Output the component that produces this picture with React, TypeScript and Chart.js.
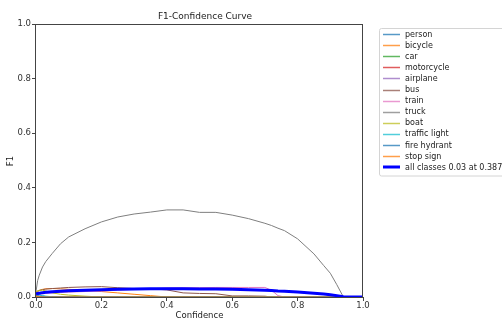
import React, { useEffect, useRef } from "react";
import { Chart, registerables } from "chart.js";

Chart.register(...registerables);

const confidence = [0, 0.005, 0.01, 0.02, 0.03, 0.05, 0.075, 0.1, 0.15, 0.2, 0.25, 0.3, 0.35, 0.4, 0.45, 0.5, 0.55, 0.6, 0.65, 0.7, 0.72, 0.74, 0.76, 0.8, 0.85, 0.88, 0.9, 0.92, 0.94, 0.96, 1.0];

const person = [0.006, 0.005, 0.004, 0.003, 0.002, 0.001, 0, 0, 0, 0, 0, 0, 0, 0, 0, 0, 0, 0, 0, 0, 0, 0, 0, 0, 0, 0, 0, 0, 0, 0, 0];
const bicycle = [0.015, 0.02, 0.024, 0.028, 0.03, 0.031, 0.03, 0.028, 0.025, 0.02, 0.015, 0.01, 0.005, 0, 0, 0, 0, 0, 0, 0, 0, 0, 0, 0, 0, 0, 0, 0, 0, 0, 0];
const car = [0.004, 0.003, 0.002, 0.001, 0, 0, 0, 0, 0, 0, 0, 0, 0, 0, 0, 0, 0, 0, 0, 0, 0, 0, 0, 0, 0, 0, 0, 0, 0, 0, 0];
const motorcycle = [0.003, 0.002, 0.001, 0, 0, 0, 0, 0, 0, 0, 0, 0, 0, 0, 0, 0, 0, 0, 0, 0, 0, 0, 0, 0, 0, 0, 0, 0, 0, 0, 0];
const airplane = [0.002, 0.001, 0, 0, 0, 0, 0, 0, 0, 0, 0, 0, 0, 0, 0, 0, 0, 0, 0, 0, 0, 0, 0, 0, 0, 0, 0, 0, 0, 0, 0];
const bus = [0.018, 0.022, 0.024, 0.027, 0.029, 0.031, 0.033, 0.035, 0.037, 0.038, 0.034, 0.031, 0.03, 0.026, 0.015, 0.013, 0.012, 0.004, 0.004, 0.003, 0, 0, 0, 0, 0, 0, 0, 0, 0, 0, 0];
const train = [0.008, 0.01, 0.011, 0.012, 0.013, 0.015, 0.017, 0.018, 0.02, 0.022, 0.025, 0.028, 0.03, 0.033, 0.034, 0.034, 0.035, 0.035, 0.035, 0.035, 0.025, 0.005, 0, 0, 0, 0, 0, 0, 0, 0, 0];
const truck = [0.02, 0.06, 0.08, 0.11, 0.13, 0.16, 0.195, 0.22, 0.25, 0.275, 0.293, 0.304, 0.311, 0.319, 0.319, 0.31, 0.31, 0.3, 0.287, 0.27, 0.262, 0.252, 0.243, 0.213, 0.158, 0.115, 0.087, 0.045, 0, 0, 0];
const boat = [0.02, 0.022, 0.024, 0.025, 0.022, 0.015, 0.01, 0.007, 0.003, 0, 0, 0, 0, 0, 0, 0, 0, 0, 0, 0, 0, 0, 0, 0, 0, 0, 0, 0, 0, 0, 0];
const trafficLight = [0.012, 0.01, 0.008, 0.005, 0.003, 0.001, 0, 0, 0, 0, 0, 0, 0, 0, 0, 0, 0, 0, 0, 0, 0, 0, 0, 0, 0, 0, 0, 0, 0, 0, 0];
const fireHydrant = [0.002, 0.001, 0, 0, 0, 0, 0, 0, 0, 0, 0, 0, 0, 0, 0, 0, 0, 0, 0, 0, 0, 0, 0, 0, 0, 0, 0, 0, 0, 0, 0];
const stopSign = [0.003, 0.002, 0.001, 0, 0, 0, 0, 0, 0, 0, 0, 0, 0, 0, 0, 0, 0, 0, 0, 0, 0, 0, 0, 0, 0, 0, 0, 0, 0, 0, 0];
const allClasses = [0.012, 0.013, 0.014, 0.016, 0.017, 0.019, 0.021, 0.023, 0.025, 0.027, 0.028, 0.029, 0.03, 0.03, 0.03, 0.029, 0.029, 0.028, 0.027, 0.025, 0.024, 0.022, 0.021, 0.018, 0.014, 0.011, 0.008, 0.005, 0.001, 0, 0];

const classNames = ["person", "bicycle", "car", "motorcycle", "airplane", "bus", "train", "truck", "boat", "traffic light", "fire hydrant", "stop sign"];
const classColors = ["#1f77b4", "#ff7f0e", "#2ca02c", "#d62728", "#9467bd", "#8c564b", "#e377c2", "#7f7f7f", "#bcbd22", "#17becf", "#1f77b4", "#ff7f0e"];
const allLabel = "all classes 0.03 at 0.387";
const titleText = "F1-Confidence Curve";
const xLabel = "Confidence";
const yLabel = "F1";

const FONT = '"DejaVu Sans", sans-serif';

export default function App() {
  const ref = useRef<HTMLCanvasElement>(null);

  useEffect(() => {
    const canvas = ref.current;
    if (!canvas) return;
    const series = [person, bicycle, car, motorcycle, airplane, bus, train, truck, boat, trafficLight, fireHydrant, stopSign];
    const datasets: any[] = [
      {
        label: allLabel,
        data: confidence.map((x, i) => ({ x, y: allClasses[i] })),
        borderColor: "#0000ff",
        borderWidth: 3,
        pointRadius: 0,
        tension: 0,
        order: 0,
      },
      ...series.map((s, k) => ({
        label: classNames[k],
        data: confidence.map((x, i) => ({ x, y: s[i] })),
        borderColor: classColors[k],
        borderWidth: 1,
        pointRadius: 0,
        tension: 0,
        order: 20 - k,
      })),
    ];

    const decor = {
      id: "decor",
      afterDatasetsDraw(chart: any) {
        const { ctx, chartArea: a } = chart;
        ctx.save();
        ctx.strokeStyle = "#444";
        ctx.lineWidth = 1;
        ctx.strokeRect(Math.round(a.left) - 0.5, Math.round(a.top) + 0.5, Math.round(a.right - a.left), Math.round(a.bottom - a.top));
        ctx.restore();
      },
      afterDraw(chart: any) {
        const { ctx, chartArea: a } = chart;
        ctx.save();
        ctx.fillStyle = "#222";
        ctx.textBaseline = "middle";
        ctx.textAlign = "center";
        ctx.font = `9px ${FONT}`;
        ctx.fillText(titleText, 205, 16.5);
        ctx.font = `8.5px ${FONT}`;
        ctx.fillText(xLabel, (a.left + a.right) / 2, 316);
        ctx.save();
        ctx.translate(11, 161);
        ctx.rotate(-Math.PI / 2);
        ctx.fillText(yLabel, 0, 0);
        ctx.restore();

        // legend
        const lx = 379.5, ly = 28.5, lw = 140, lh = 147.5, r = 2;
        ctx.beginPath();
        ctx.moveTo(lx + r, ly);
        ctx.lineTo(lx + lw - r, ly);
        ctx.quadraticCurveTo(lx + lw, ly, lx + lw, ly + r);
        ctx.lineTo(lx + lw, ly + lh - r);
        ctx.quadraticCurveTo(lx + lw, ly + lh, lx + lw - r, ly + lh);
        ctx.lineTo(lx + r, ly + lh);
        ctx.quadraticCurveTo(lx, ly + lh, lx, ly + lh - r);
        ctx.lineTo(lx, ly + r);
        ctx.quadraticCurveTo(lx, ly, lx + r, ly);
        ctx.closePath();
        ctx.fillStyle = "rgba(255,255,255,0.8)";
        ctx.fill();
        ctx.strokeStyle = "#d4d4d4";
        ctx.lineWidth = 1;
        ctx.stroke();

        const labels = [...classNames, allLabel];
        const colors = [...classColors, "#0000ff"];
        ctx.textAlign = "left";
        ctx.font = `8px ${FONT}`;
        labels.forEach((lab, i) => {
          const yc = 34 + i * 11.1;
          const last = i === labels.length - 1;
          const yl = last ? Math.round(yc) : Math.round(yc) + 0.5;
          ctx.strokeStyle = colors[i];
          ctx.globalAlpha = last ? 1 : 0.75;
          ctx.lineWidth = last ? 3 : 1.5;
          ctx.beginPath();
          ctx.moveTo(383, yl);
          ctx.lineTo(400, yl);
          ctx.stroke();
          ctx.globalAlpha = 1;
          ctx.fillStyle = "#222";
          ctx.fillText(lab, 405, yc + 0.5);
        });
        ctx.restore();
      },
    };

    const tickOpts = {
      font: { family: FONT, size: 8.5 },
      color: "#333",
      callback: (v: any) => Number(v).toFixed(1),
      stepSize: 0.2,
    };

    const chart = new Chart(canvas, {
      type: "line",
      data: { datasets },
      options: {
        animation: false,
        responsive: false,
        maintainAspectRatio: false,
        layout: { padding: { left: 0, top: 24, right: 139, bottom: 0 } },
        plugins: { legend: { display: false }, title: { display: false }, tooltip: { enabled: false } },
        scales: {
          x: {
            type: "linear",
            min: 0,
            max: 1,
            border: { display: false },
            grid: { drawOnChartArea: false, drawTicks: true, tickLength: 4, color: "#444" },
            ticks: { ...tickOpts, padding: 0, maxRotation: 0 },
            afterFit: (s: any) => { s.height = 24; },
          },
          y: {
            type: "linear",
            min: 0,
            max: 1,
            border: { display: false },
            grid: { drawOnChartArea: false, drawTicks: true, tickLength: 4, color: "#444" },
            ticks: { ...tickOpts, padding: 1 },
            afterFit: (s: any) => { s.width = 36; },
          },
        },
      } as any,
      plugins: [decor],
    });
    return () => chart.destroy();
  }, []);

  return (
    <div style={{ position: "fixed", left: 0, top: 0, width: 502, height: 321, background: "#fff" }}>
      <canvas ref={ref} width={502} height={321} style={{ width: 502, height: 321, display: "block" }} />
    </div>
  );
}
